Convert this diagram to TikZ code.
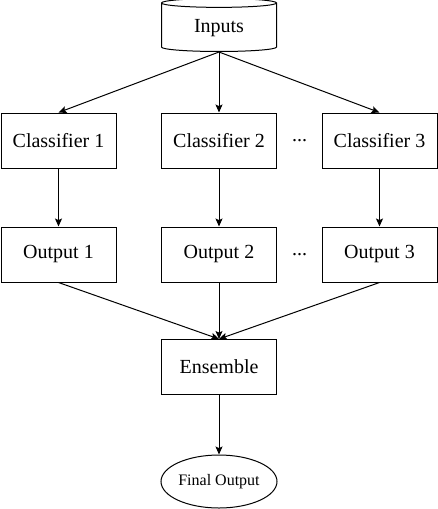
\documentclass[tikz,border=0pt]{standalone}
\usepackage{fontspec}
\setmainfont{Liberation Serif}
\usepackage{tikz}
\usetikzlibrary{positioning,shapes.geometric,arrows.meta}
\tikzset{%
  every block/.style={
    rectangle,
    draw,
    line width=0.5pt,
    minimum width=57.5pt,
    minimum height=27.5pt,
    font=\fontsize{10}{12}\selectfont
  },
  block data/.style={
    cylinder,
    shape border rotate=90,
    aspect=0.14,
    minimum height=26.5pt
  },
  block final/.style={
    ellipse,
    minimum width=58pt,
    minimum height=26.5pt,
    inner sep=0pt,
    font=\fontsize{8}{10}\selectfont
  },
}

\begin{document}
\begin{tikzpicture}[x=0.5pt, y=-0.5pt, >={Stealth[length=4pt,width=3.5pt,inset=0.8pt]}, line width=0.5pt]
        \useasboundingbox (0,0) rectangle (438,509);

        \node [every block, block data] (inputs) at (219,28.5) {Inputs};

        \foreach \m/\x in {1/58.5,2/219,3/379.5}
          \node [every block] (classifier-\m) at (\x,140.5) {Classifier \m};

        \foreach \m/\x in {1/58.5,2/219,3/379.5}
          \node [every block] (output-\m) at (\x,254.5) {Output \m};

        \node [every block] (ensemble) at (219,367) {Ensemble};
        \node [every block, block final] (final) at (219,481.5) {Final Output};

        \foreach \y [count=\i] in {140.5,254.5}
          \node [font=\fontsize{10}{12}\selectfont] (dots-\i) at (299.5,\y) {...};

        \foreach \i in {1,...,3}
          \draw [->] (inputs.south) -- (classifier-\i.north);

        \foreach \i in {1,...,3}
          \draw [->] (classifier-\i) -- (output-\i);

        \foreach \i in {1,...,3}
          \draw [->] (output-\i.south) -- (ensemble.north);

        \draw [->] (ensemble) -- (final);
        \end{tikzpicture}
\end{document}
